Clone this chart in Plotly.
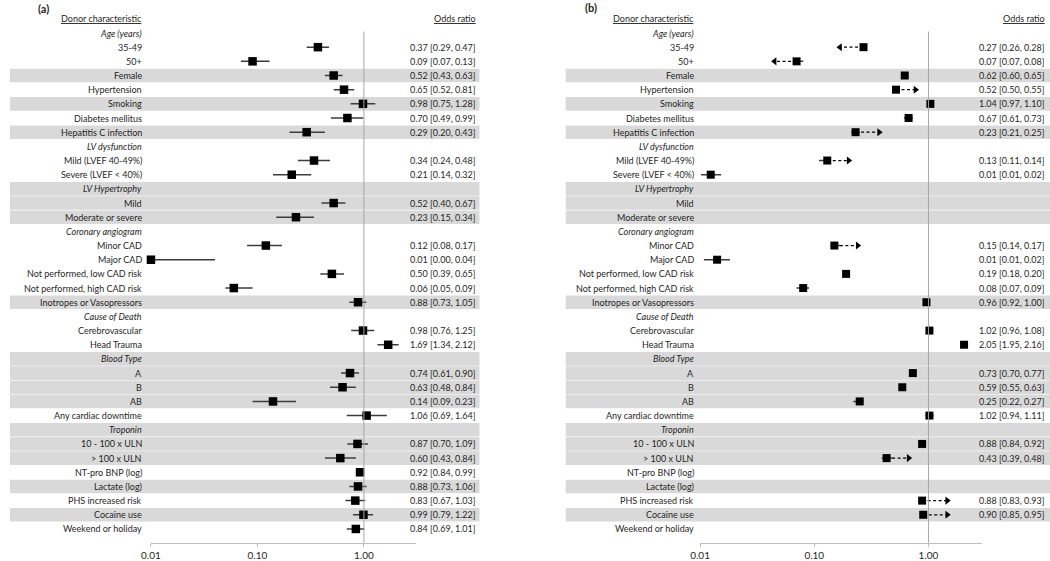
import plotly.graph_objects as go

# ---------------- data ----------------
labels = [
    "Age (years)", "35-49", "50+", "Female", "Hypertension", "Smoking",
    "Diabetes mellitus", "Hepatitis C infection", "LV dysfunction",
    "Mild (LVEF 40-49%)", "Severe (LVEF < 40%)", "LV Hypertrophy", "Mild",
    "Moderate or severe", "Coronary angiogram", "Minor CAD", "Major CAD",
    "Not performed, low CAD risk", "Not performed, high CAD risk",
    "Inotropes or Vasopressors", "Cause of Death", "Cerebrovascular",
    "Head Trauma", "Blood Type", "A", "B", "AB", "Any cardiac downtime",
    "Troponin", "10 - 100 x ULN", "> 100 x ULN", "NT-pro BNP (log)",
    "Lactate (log)", "PHS increased risk", "Cocaine use", "Weekend or holiday",
]
group_headers = [0, 8, 11, 14, 20, 23, 28]
shaded_rows = [3, 5, 7, 11, 12, 13, 19, 23, 24, 25, 26, 28, 29, 30, 32, 34]

N = None
# panel (a)
or_a = [N, 0.37, 0.09, 0.52, 0.65, 0.98, 0.70, 0.29, N, 0.34, 0.21, N, 0.52, 0.23,
        N, 0.12, 0.01, 0.50, 0.06, 0.88, N, 0.98, 1.69, N, 0.74, 0.63, 0.14, 1.06,
        N, 0.87, 0.60, 0.92, 0.88, 0.83, 0.99, 0.84]
lo_a = [N, 0.29, 0.07, 0.43, 0.52, 0.75, 0.49, 0.20, N, 0.24, 0.14, N, 0.40, 0.15,
        N, 0.08, 0.004, 0.39, 0.05, 0.73, N, 0.76, 1.34, N, 0.61, 0.48, 0.09, 0.69,
        N, 0.70, 0.43, 0.84, 0.73, 0.67, 0.79, 0.69]
hi_a = [N, 0.47, 0.13, 0.63, 0.81, 1.28, 0.99, 0.43, N, 0.48, 0.32, N, 0.67, 0.34,
        N, 0.17, 0.04, 0.65, 0.09, 1.05, N, 1.25, 2.12, N, 0.90, 0.84, 0.23, 1.64,
        N, 1.09, 0.84, 0.99, 1.06, 1.03, 1.22, 1.01]
# panel (b)
or_b = [N, 0.27, 0.07, 0.62, 0.52, 1.04, 0.67, 0.23, N, 0.13, 0.0124, N, N, N,
        N, 0.15, 0.0141, 0.19, 0.08, 0.96, N, 1.02, 2.05, N, 0.73, 0.59, 0.25, 1.02,
        N, 0.88, 0.43, N, N, 0.88, 0.90, N]
lo_b = [N, 0.26, 0.07, 0.60, 0.50, 0.97, 0.61, 0.21, N, 0.11, 0.0102, N, N, N,
        N, 0.14, 0.0108, 0.18, 0.07, 0.92, N, 0.96, 1.95, N, 0.70, 0.55, 0.22, 0.94,
        N, 0.84, 0.39, N, N, 0.83, 0.85, N]
hi_b = [N, 0.28, 0.08, 0.65, 0.55, 1.10, 0.73, 0.25, N, 0.14, 0.0153, N, N, N,
        N, 0.17, 0.0183, 0.20, 0.09, 1.00, N, 1.08, 2.16, N, 0.77, 0.63, 0.27, 1.11,
        N, 0.92, 0.48, N, N, 0.93, 0.95, N]
arrow_b = [N, 0.168, 0.045, N, 0.77, N, N, 0.37, N, 0.20, N, N, N, N,
           N, 0.24, N, N, N, N, N, N, N, N, N, N, N, N,
           N, N, 0.67, N, N, 1.46, 1.46, N]

tick_vals = [0.01, 0.1, 1.0]
tick_text = ["0.01", "0.10", "1.00"]

# ---------------- layout helpers ----------------
W, H = 1050, 561
FONT = "Lato"
TXT = "#1f1f1f"
FS = 9
ROW0, ROWH = 33.0, 14.17
AX_Y = 542.7


def px(x):
    return x / W


def fmt(v):
    return f"{v:.2f}"


fig = go.Figure()

# shading bands
for r in shaded_rows:
    for x0, x1 in [(0, 474), (561, 1050)]:
        fig.add_shape(type="rect", xref="paper", yref="y", x0=px(x0), x1=px(x1),
                      y0=r - 0.48, y1=r + 0.48, fillcolor="#d9d9d9",
                      line=dict(width=0), layer="below")


def add_panel(xa, orv, lov, hiv, arrows, msize):
    rows = [i for i, v in enumerate(orv) if v is not None]
    # CI lines
    cx, cy = [], []
    for i in rows:
        cx += [lov[i], hiv[i], None]
        cy += [i, i, None]
    fig.add_trace(go.Scatter(x=cx, y=cy, mode="lines", xaxis=xa, yaxis="y",
                             line=dict(color="#3c3c3c", width=1.5),
                             hoverinfo="skip", showlegend=False))
    # arrows
    if arrows is not None:
        ax_, ay_ = [], []
        lt, lty, rt, rty = [], [], [], []
        for i, a in enumerate(arrows):
            if a is None:
                continue
            ax_ += [orv[i], a, None]
            ay_ += [i, i, None]
            if a < orv[i]:
                lt.append(a); lty.append(i)
            else:
                rt.append(a); rty.append(i)
        fig.add_trace(go.Scatter(x=ax_, y=ay_, mode="lines", xaxis=xa, yaxis="y",
                                 line=dict(color="black", width=1.2, dash="3px,2.5px"),
                                 hoverinfo="skip", showlegend=False))
        fig.add_trace(go.Scatter(x=lt, y=lty, mode="markers", xaxis=xa, yaxis="y",
                                 marker=dict(symbol="triangle-left", size=7, color="black"),
                                 hoverinfo="skip", showlegend=False))
        fig.add_trace(go.Scatter(x=rt, y=rty, mode="markers", xaxis=xa, yaxis="y",
                                 marker=dict(symbol="triangle-right", size=7, color="black"),
                                 hoverinfo="skip", showlegend=False))
    # point estimates
    fig.add_trace(go.Scatter(x=[orv[i] for i in rows], y=rows, mode="markers",
                             xaxis=xa, yaxis="y", cliponaxis=False,
                             marker=dict(symbol="square", size=msize, color="black",
                                         line=dict(width=0)),
                             hoverinfo="skip", showlegend=False))


add_panel("x", or_a, lo_a, hi_a, None, 8.5)
add_panel("x2", or_b, lo_b, hi_b, arrow_b, 8)

# reference lines at OR = 1
for xr in ["x", "x2"]:
    fig.add_shape(type="line", xref=xr, yref="y", x0=1, x1=1, y0=-0.1, y1=36.12,
                  line=dict(color="#a6a6a6", width=1))

ann = []


def add_text(x, y, text, anchor="right", size=FS, yref="y"):
    ann.append(dict(x=x, y=y, xref="paper", yref=yref, text=text, showarrow=False,
                    xanchor=anchor, yanchor="middle",
                    font=dict(family=FONT, size=size, color=TXT)))


for lab_x, val_x, orv, lov, hiv in [(135.5, 473, or_a, lo_a, hi_a),
                                     (692.5, 1047, or_b, lo_b, hi_b)]:
    add_text(px(lab_x), -1, "<u>Donor characteristic</u>")
    add_text(px(val_x), -1, "<u>Odds ratio</u>")
    for i, lab in enumerate(labels):
        t = f"<i>{lab}</i>" if i in group_headers else lab
        add_text(px(lab_x), i, t)
        if orv[i] is not None:
            add_text(px(val_x), i, f"{fmt(orv[i])} [{fmt(lov[i])}, {fmt(hiv[i])}]")

add_text(px(26), -1.75, "<b>(a)</b>", anchor="left", size=11)
add_text(px(579), -1.8, "<b>(b)</b>", anchor="left", size=11)

axis_common = dict(type="log", showgrid=False, zeroline=False, showline=True,
                   linecolor="#bfbfbf", linewidth=1.2, ticks="outside", ticklen=3,
                   tickcolor="#bfbfbf", tickvals=tick_vals, ticktext=tick_text,
                   tickfont=dict(family=FONT, size=10, color=TXT), anchor="y",
                   fixedrange=True)

fig.update_layout(
    width=W, height=H,
    margin=dict(l=0, r=0, t=0, b=0),
    paper_bgcolor="white",
    plot_bgcolor="rgba(0,0,0,0)",
    xaxis=dict(domain=[px(142.3), px(410)], range=[-2, 0.49], **axis_common),
    xaxis2=dict(domain=[px(696.7), px(981.7)], range=[-2, 0.472], **axis_common),
    yaxis=dict(domain=[(H - AX_Y) / H, 1],
               range=[(AX_Y - ROW0) / ROWH, -ROW0 / ROWH],
               visible=False, fixedrange=True),
    annotations=ann,
    showlegend=False,
)

fig.write_html("out.html", config={"displayModeBar": False},
               post_script="document.body.style.margin='0';"
                           "document.body.style.padding='0';"
                           "document.documentElement.style.overflow='hidden';")
